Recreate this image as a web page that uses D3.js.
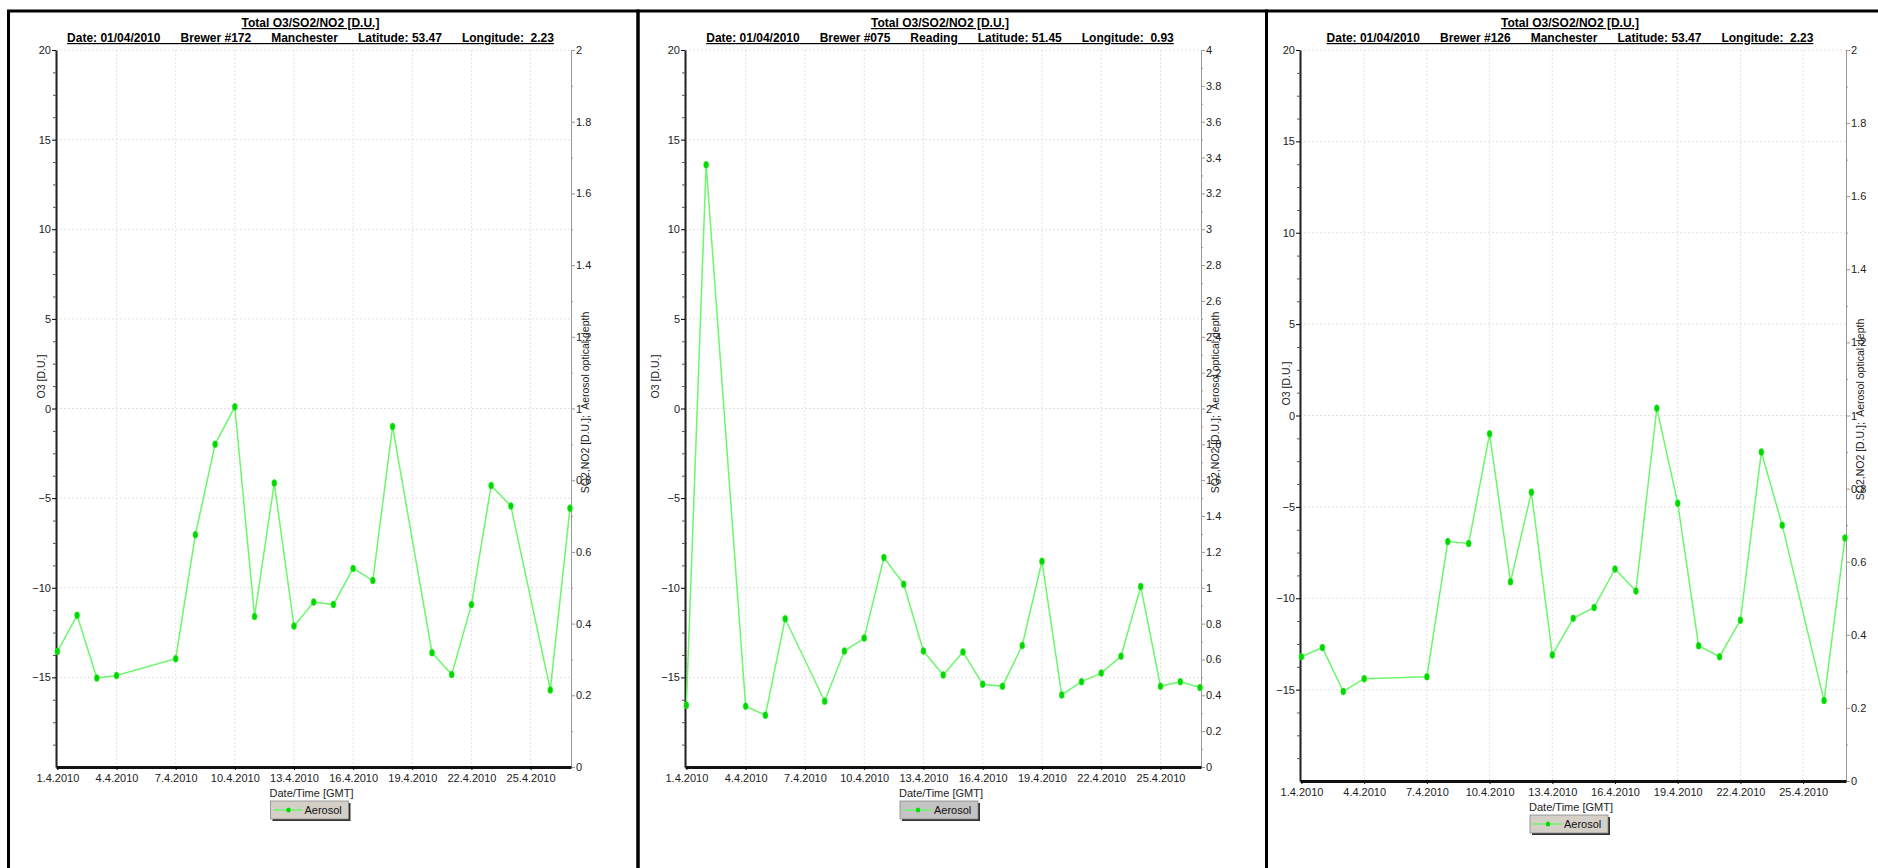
<!DOCTYPE html>
<html>
<head>
<meta charset="utf-8">
<script src="https://cdn.jsdelivr.net/npm/d3@7"></script>
<style>
  body { margin: 0; background: #fff; font-family: "Liberation Sans", Arial, sans-serif; }
  svg text { font-family: "Liberation Sans", Arial, sans-serif; }
</style>
</head>
<body>
<svg id="chart" width="1878" height="868"></svg>
<script>
// === Data ===
const titleText = "Total O3/SO2/NO2 [D.U.]";
const xAxisTitle = "Date/Time [GMT]";
const leftAxisTitle = "O3 [D.U.]";
const rightAxisTitle = "SO2,NO2 [D.U.];  Aerosol optical depth";
const seriesName = "Aerosol";

const headerDate = "Date: 01/04/2010";
const brewers = ["Brewer #172", "Brewer #075", "Brewer #126"];
const stations = ["Manchester", "Reading", "Manchester"];
const latitudes = ["53.47", "51.45", "53.47"];
const longitudes = ["2.23", "0.93", "2.23"];
const rightMax = [2, 4, 2];

const dates1 = ["2010-04-01","2010-04-02","2010-04-03","2010-04-04","2010-04-07","2010-04-08",
  "2010-04-09","2010-04-10","2010-04-11","2010-04-12","2010-04-13","2010-04-14","2010-04-15",
  "2010-04-16","2010-04-17","2010-04-18","2010-04-20","2010-04-21","2010-04-22","2010-04-23",
  "2010-04-24","2010-04-26","2010-04-27"];
const aerosol1 = [0.322, 0.423, 0.248, 0.255, 0.302, 0.648, 0.900, 1.005, 0.420, 0.792, 0.393,
  0.460, 0.453, 0.554, 0.520, 0.950, 0.319, 0.258, 0.453, 0.785, 0.728, 0.215, 0.722];

const dates2 = ["2010-04-01","2010-04-02","2010-04-04","2010-04-05","2010-04-06","2010-04-08",
  "2010-04-09","2010-04-10","2010-04-11","2010-04-12","2010-04-13","2010-04-14","2010-04-15",
  "2010-04-16","2010-04-17","2010-04-18","2010-04-19","2010-04-20","2010-04-21","2010-04-22",
  "2010-04-23","2010-04-24","2010-04-25","2010-04-26","2010-04-27"];
const aerosol2 = [0.345, 3.360, 0.339, 0.289, 0.827, 0.367, 0.647, 0.719, 1.169, 1.020, 0.647,
  0.513, 0.642, 0.462, 0.450, 0.678, 1.148, 0.402, 0.476, 0.524, 0.618, 1.007, 0.450, 0.476, 0.443];

const dates3 = ["2010-04-01","2010-04-02","2010-04-03","2010-04-04","2010-04-07","2010-04-08",
  "2010-04-09","2010-04-10","2010-04-11","2010-04-12","2010-04-13","2010-04-14","2010-04-15",
  "2010-04-16","2010-04-17","2010-04-18","2010-04-19","2010-04-20","2010-04-21","2010-04-22",
  "2010-04-23","2010-04-24","2010-04-26","2010-04-27"];
const aerosol3 = [0.340, 0.365, 0.245, 0.280, 0.285, 0.655, 0.650, 0.950, 0.545, 0.790, 0.345,
  0.445, 0.475, 0.580, 0.520, 1.020, 0.760, 0.370, 0.340, 0.440, 0.900, 0.700, 0.220, 0.665];

const o3Ticks = [-15, -10, -5, 0, 5, 10, 15, 20];

// === Layout of the three panels ===
const panels = [
  { box: [8.5, 638], plot: { left: 56, right: 571, top: 50, bottom: 767 }, o3x: 45,
    dates: dates1, values: aerosol1, legendBg: "#d4d0c8" },
  { box: [638, 1266.5], plot: { left: 685, right: 1201, top: 50, bottom: 767 }, o3x: 659,
    dates: dates2, values: aerosol2, legendBg: "#c4c4c4" },
  { box: [1266.5, 1900], plot: { left: 1300, right: 1846, top: 50, bottom: 781 }, o3x: 1290,
    dates: dates3, values: aerosol3, legendBg: "#d4d0c8" }
];

const svg = d3.select("#chart");
const parse = d3.utcParse("%Y-%m-%d");
const DAY = 864e5;

// panel frames
panels.forEach((p) => {
  svg.append("rect")
    .attr("x", p.box[0]).attr("y", 11)
    .attr("width", p.box[1] - p.box[0]).attr("height", 900)
    .attr("fill", "none").attr("stroke", "#000").attr("stroke-width", 3);
});

function drawPanel(p, i) {
  const { left, right, top, bottom } = p.plot;
  const cx = (left + right) / 2;
  const g = svg.append("g");
  const pts = p.dates.map((d, k) => ({ date: parse(d), value: p.values[k] }));

  const ext = d3.extent(pts, (d) => d.date);
  const x = d3.scaleUtc()
    .domain([new Date(+ext[0] - 0.07 * DAY), new Date(+ext[1] + 0.05 * DAY)])
    .range([left, right]);
  const yL = d3.scaleLinear().domain([-20, 20]).range([bottom, top]);
  const yR = d3.scaleLinear().domain([0, rightMax[i]]).range([bottom, top]);

  const xTicks = x.ticks(d3.utcDay.every(3));

  // === Grid ===
  g.append("g").selectAll("line").data(o3Ticks).join("line")
    .attr("x1", left).attr("x2", right)
    .attr("y1", (d) => yL(d)).attr("y2", (d) => yL(d))
    .attr("stroke", "#e2e2e2").attr("stroke-dasharray", "2,2");
  g.append("g").selectAll("line").data(xTicks).join("line")
    .attr("x1", (d) => x(d)).attr("x2", (d) => x(d))
    .attr("y1", top).attr("y2", bottom)
    .attr("stroke", "#e2e2e2").attr("stroke-dasharray", "2,2");

  // === Right axis (aerosol) ===
  const rMajor = d3.range(0, rightMax[i] + 0.001, 0.2).map((v) => +v.toFixed(1));
  const rMinor = d3.range(0.1, rightMax[i], 0.2).map((v) => +v.toFixed(1));
  const rAxis = g.append("g").attr("transform", `translate(${right},0)`)
    .call(d3.axisRight(yR).tickValues(rMajor).tickSize(4).tickSizeOuter(0).tickPadding(1)
      .tickFormat((d) => String(d)));
  rAxis.select(".domain").attr("stroke", "#999");
  rAxis.selectAll(".tick line").attr("stroke", "#999");
  g.append("g").attr("transform", `translate(${right},0)`)
    .call(d3.axisRight(yR).tickValues(rMinor).tickSize(2).tickFormat(""))
    .call((s) => s.select(".domain").remove())
    .selectAll(".tick line").attr("stroke", "#999");

  // === Left axis (O3) ===
  const lAxis = g.append("g").attr("transform", `translate(${left},0)`)
    .call(d3.axisLeft(yL).tickValues(o3Ticks).tickSize(4).tickSizeOuter(0).tickPadding(1));
  lAxis.select(".domain").attr("stroke", "#222").attr("stroke-width", 2);
  g.append("g").attr("transform", `translate(${left},0)`)
    .call(d3.axisLeft(yL).tickValues(d3.range(-20, 20, 1.25).filter((v) => v % 5 !== 0)).tickSize(3).tickFormat(""))
    .call((s) => s.select(".domain").remove())
    .selectAll(".tick line").attr("stroke", "#555");

  // === Bottom axis ===
  const bAxis = g.append("g").attr("transform", `translate(0,${bottom})`)
    .call(d3.axisBottom(x).tickValues(xTicks).tickSize(3).tickSizeOuter(0).tickPadding(4)
      .tickFormat(d3.utcFormat("%-d.%-m.%Y")));
  bAxis.select(".domain").attr("stroke", "#111").attr("stroke-width", 3);

  [rAxis, lAxis, bAxis].forEach((a) =>
    a.selectAll("text").attr("font-size", 11).attr("fill", "#222").attr("font-family", null));

  // === Axis titles ===
  g.append("text").attr("x", cx - 2).attr("y", bottom + 30)
    .attr("text-anchor", "middle").attr("font-size", 11).attr("fill", "#222")
    .text(xAxisTitle);
  g.append("text")
    .attr("transform", `translate(${p.o3x},${(top + bottom) / 2 - 32}) rotate(-90)`)
    .attr("text-anchor", "middle").attr("font-size", 10.5).attr("fill", "#222")
    .text(leftAxisTitle);
  g.append("text")
    .attr("transform", `translate(${right + 18},${(top + bottom) / 2 - 6}) rotate(-90)`)
    .attr("text-anchor", "middle").attr("font-size", 10.5).attr("fill", "#222")
    .style("white-space", "pre")
    .text(rightAxisTitle);

  // === Titles (centred by measured length) ===
  const title = g.append("text").attr("y", 27)
    .attr("font-size", 12).attr("font-weight", "bold")
    .attr("text-decoration", "underline")
    .text(titleText);
  title.attr("x", cx - 3 - title.node().getComputedTextLength() / 2);
  const sub = [headerDate, brewers[i], stations[i], "Latitude: " + latitudes[i], "Longitude:  " + longitudes[i]]
    .join("      ");
  const subT = g.append("text").attr("y", 42)
    .attr("font-size", 12).attr("font-weight", "bold")
    .attr("text-decoration", "underline")
    .style("white-space", "pre")
    .text(sub);
  subT.attr("x", cx - 3 - subT.node().getComputedTextLength() / 2);

  // === Series ===
  const line = d3.line().x((d) => x(d.date)).y((d) => yR(d.value));
  g.append("path").datum(pts)
    .attr("d", line).attr("fill", "none")
    .attr("stroke", "#6cf76c").attr("stroke-width", 1.5);
  g.append("g").selectAll("ellipse").data(pts).join("ellipse")
    .attr("cx", (d) => x(d.date)).attr("cy", (d) => yR(d.value))
    .attr("rx", 2.5).attr("ry", 3.5)
    .attr("fill", "#00d800").attr("stroke", "#33ee33").attr("stroke-width", 0.5);

  // === Legend ===
  const lw = 78, lh = 18;
  const lx = cx - 43, ly = bottom + 34;
  const leg = g.append("g").attr("transform", `translate(${lx},${ly})`);
  leg.append("rect").attr("x", 2).attr("y", 2).attr("width", lw).attr("height", lh)
    .attr("fill", "#333");
  leg.append("rect").attr("width", lw).attr("height", lh)
    .attr("fill", p.legendBg).attr("stroke", "#888").attr("stroke-width", 0.8);
  leg.append("line").attr("x1", 3).attr("x2", 32).attr("y1", lh / 2).attr("y2", lh / 2)
    .attr("stroke", "#6cf76c").attr("stroke-width", 1.5);
  leg.append("ellipse").attr("cx", 18).attr("cy", lh / 2).attr("rx", 2.2).attr("ry", 2.6)
    .attr("fill", "#00d800");
  leg.append("text").attr("x", 34).attr("y", lh / 2 + 4)
    .attr("font-size", 11).attr("fill", "#111").text(seriesName);
}

panels.forEach(drawPanel);
</script>
</body>
</html>
